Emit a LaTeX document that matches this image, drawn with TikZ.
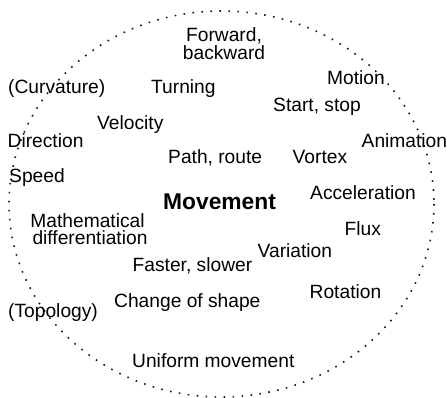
\documentclass[tikz,border=0pt]{standalone}
\usepackage{fontspec}
\setmainfont{Liberation Sans}

\begin{document}
\begin{tikzpicture}[
  x=1pt, y=-1pt,
  word/.style={anchor=base west, inner sep=0pt, font=\fontsize{19.2}{17.5}\selectfont},
  pair/.style={word, anchor=north, align=center},
  hub/.style={word, font=\fontsize{22.8}{24}\selectfont\bfseries},
  rim/.style={draw=black!90, line width=1.6pt, dash pattern=on 1.6pt off 7.4pt},
]
\useasboundingbox (0,0) rectangle (447,398);

% ---- dotted boundary ---------------------------------------------------------
\draw[rim] (221.5,204) ellipse [x radius=212.5, y radius=193];

% ---- centre word -------------------------------------------------------------
\node[hub] (move) at (163,210) {Movement};

% ---- upper half --------------------------------------------------------------
\node[pair] (fwd)   at (224,27.5)  {Forward,\\backward};
\node[word] (curv)  at (8,94)      {(Curvature)};
\node[word] (turn)  at (151,94)    {Turning};
\node[word] (motn)  at (327,85)    {Motion};
\node[word] (start) at (273,111.5) {Start, stop};
\node[word] (velo)  at (97,130)    {Velocity};
\node[word] (dirn)  at (7.5,147.5) {Direction};
\node[word] (anim)  at (361.5,147.5) {Animation};
\node[word] (path)  at (168,164)   {Path, route};
\node[word] (vort)  at (292.5,164) {Vortex};
\node[word] (speed) at (9,182.5)   {Speed};
\node[word] (accel) at (310,200)   {Acceleration};

% ---- lower half --------------------------------------------------------------
\node[pair] (math)  at (87.5,213)    {Mathematical\\\hspace*{5pt}differentiation};
\node[word] (flux)  at (344.5,235.7) {Flux};
\node[word] (vari)  at (257.5,257.3) {Variation};
\node[word] (fast)  at (132.5,271.3) {Faster, slower};
\node[word] (rota)  at (309.5,298.3) {Rotation};
\node[word] (shape) at (114,307.3)   {Change of shape};
\node[word] (topo)  at (8,317.3)     {(Topology)};
\node[word] (unif)  at (132,367.3)   {Uniform movement};

\end{tikzpicture}
\end{document}
